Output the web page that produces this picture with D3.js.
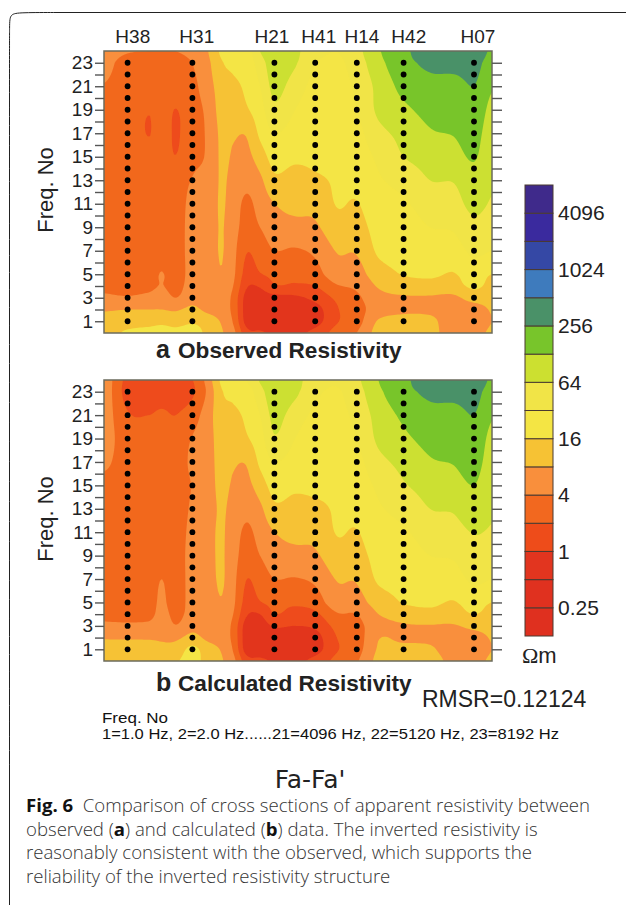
<!DOCTYPE html>
<meta charset="utf-8">
<style>
  body { margin: 0; background: #fff; }
  text { font-family: "Liberation Sans", Arial, sans-serif; fill: #222; }
  .axis path { display: none; }
  .axis line { stroke: #555; stroke-width: 1.4; }
  .axis text { font-size: 19px; fill: #222; }
  .caption { font-family: "Open Sans", sans-serif; font-size: 18.6px; font-weight: 300; fill: #333; }
  .caption tspan.b { font-weight: 700; fill: #111; }
</style>
<svg width="629" height="906"></svg>
<script src="https://d3js.org/d3.v7.min.js"></script>
<script>
  // log2 of apparent resistivity
  var freqRows = [0, 1, 2, 3, 4, 5, 7, 9, 11, 13, 15, 17, 19, 21, 23, 24];
  var profileKm = [0, 5.9, 11.3, 14.4, 17.9, 22.1, 25.7, 29.4, 32.3, 35.7, 39, 42.6, 47.8, 52.8, 58.2, 63.2, 68.6, 74.9, 81.5, 87.3, 92.5, 97];

  // one inner array per profile position, low to high frequency
  var observed = [
    [3.5, 3.4, 2.9, 2.2, 1.75, 1.6, 1.6, 1.6, 1.6, 1.6, 1.6, 1.6, 1.7, 1.95, 2.4, 2.6],
    [4.2, 3.4, 3.0, 2.1, 1.6, 1.5, 1.5, 1.5, 1.5, 1.5, 1.5, 1.5, 1.5, 1.5, 1.5, 2.1],
    [4.5, 3.5, 3.0, 2.3, 1.7, 1.5, 1.5, 1.5, 1.5, 1.5, 1.3, 0.97, 1.05, 1.5, 1.5, 2.0],
    [4.6, 3.7, 3.0, 2.55, 2.05, 2.05, 1.5, 1.5, 1.5, 1.5, 1.5, 1.5, 1.5, 1.5, 1.5, 2.0],
    [4.4, 3.5, 2.9, 2.0, 1.6, 1.5, 1.5, 1.5, 1.5, 1.5, 1.02, 0.9, 0.98, 1.5, 1.55, 2.0],
    [4.7, 3.8, 3.2, 2.7, 2.5, 2.4, 2.4, 2.4, 2.3, 2.05, 1.75, 1.6, 1.6, 1.75, 2.0, 2.3],
    [3.7, 3.5, 2.8, 2.5, 2.5, 2.5, 2.5, 2.5, 2.4, 2.3, 2.1, 2.1, 2.2, 2.5, 2.7, 2.9],
    [3.1, 2.9, 2.5, 2.6, 2.7, 2.95, 3.05, 3.05, 3.1, 3.1, 3.15, 3.2, 3.4, 3.5, 3.9, 4.2],
    [2.3, 1.9, 1.7, 1.7, 2.0, 2.2, 2.3, 2.4, 2.5, 2.7, 2.9, 3.1, 3.5, 3.8, 4.2, 4.4],
    [0.3, -0.4, -0.5, -0.4, 0.1, 0.6, 1.05, 1.6, 1.8, 2.3, 2.75, 3.1, 3.9, 4.2, 4.4, 4.5],
    [0.1, -0.5, -0.6, -0.4, 0.1, 0.95, 1.5, 2.0, 2.4, 2.8, 3.5, 4.2, 4.6, 5.0, 5.5, 6.0],
    [-0.1, -0.5, -0.5, -0.3, 0.9, 1.25, 2.0, 2.5, 3.0, 3.8, 4.4, 5.0, 5.8, 6.3, 6.6, 6.7],
    [-0.2, -0.6, -0.6, -0.2, 0.9, 1.1, 1.9, 2.6, 3.4, 3.6, 4.2, 4.6, 5.0, 5.5, 6.1, 6.2],
    [0.3, -0.4, -0.4, 0.3, 1.0, 1.6, 2.2, 2.85, 3.3, 3.85, 4.2, 4.4, 4.5, 4.7, 5.0, 5.4],
    [1.4, 0.9, 0.9, 1.2, 1.9, 2.6, 3.05, 3.6, 4.05, 4.1, 4.2, 4.3, 4.4, 4.6, 4.8, 5.0],
    [2.0, 1.6, 1.6, 1.8, 2.2, 2.6, 3.1, 3.6, 3.95, 4.3, 4.5, 4.7, 5.0, 5.2, 5.5, 5.7],
    [3.4, 3.1, 2.5, 2.7, 3.1, 3.6, 4.15, 4.4, 4.7, 4.9, 5.2, 5.7, 6.2, 6.3, 6.7, 6.9],
    [3.7, 3.4, 2.8, 2.9, 3.5, 4.05, 4.3, 4.6, 4.9, 5.3, 6.0, 6.3, 6.8, 7.3, 7.7, 7.8],
    [3.3, 3.3, 2.75, 2.9, 3.6, 4.2, 4.6, 5.0, 5.4, 6.0, 6.4, 6.9, 7.3, 7.7, 8.2, 8.5],
    [2.6, 2.3, 2.5, 2.8, 3.6, 3.95, 4.6, 5.1, 5.6, 6.05, 6.6, 7.05, 7.4, 7.6, 8.4, 8.9],
    [2.6, 2.2, 2.5, 3.4, 4.2, 4.5, 5.2, 5.7, 6.3, 6.6, 7.1, 7.4, 7.7, 8.0, 8.4, 8.8],
    [3.2, 3.0, 3.1, 3.4, 3.7, 4.0, 5.0, 5.4, 5.9, 6.1, 6.2, 6.4, 6.7, 7.1, 7.5, 7.8]
  ];

  var calculated = [
    [3.6, 3.5, 2.9, 2.2, 1.75, 1.6, 1.6, 1.6, 1.6, 1.6, 1.7, 2.2, 2.4, 2.5, 2.6, 2.6],
    [3.6, 3.4, 2.9, 2.2, 1.6, 1.5, 1.5, 1.5, 1.5, 1.5, 1.5, 1.5, 1.5, 1.1, 0.6, 0.7],
    [3.7, 3.4, 2.9, 2.3, 1.6, 1.5, 1.5, 1.5, 1.5, 1.5, 1.5, 1.5, 1.4, 1.0, 0.5, 0.6],
    [3.5, 3.2, 2.9, 2.7, 2.4, 2.2, 2.0, 1.6, 1.5, 1.5, 1.5, 1.5, 1.45, 1.15, 0.6, 0.6],
    [3.9, 3.4, 2.8, 2.05, 1.7, 1.5, 1.5, 1.5, 1.5, 1.5, 1.5, 1.5, 1.4, 1.0, 0.55, 0.6],
    [4.3, 4.25, 3.3, 2.7, 2.4, 2.4, 2.4, 2.4, 2.3, 2.15, 2.05, 2.2, 2.05, 1.5, 0.85, 0.95],
    [3.7, 3.5, 2.8, 2.5, 2.5, 2.5, 2.6, 2.7, 2.7, 2.6, 2.6, 2.6, 2.6, 2.5, 2.1, 2.3],
    [3.1, 2.9, 2.5, 2.6, 2.7, 2.95, 3.1, 3.1, 3.1, 3.1, 3.2, 3.3, 3.4, 3.6, 3.9, 4.2],
    [2.3, 1.9, 1.7, 1.7, 2.0, 2.2, 2.3, 2.4, 2.5, 2.7, 2.9, 3.1, 3.5, 3.8, 4.2, 4.4],
    [0.4, -0.5, -0.6, -0.5, 0.1, 0.6, 1.0, 1.5, 1.8, 2.3, 2.75, 3.1, 3.9, 4.2, 4.5, 5.0],
    [0.2, -0.6, -0.7, -0.5, 0.0, 0.95, 1.5, 2.0, 2.4, 2.8, 3.5, 4.2, 4.6, 5.0, 5.6, 6.1],
    [-0.1, -0.6, -0.5, 0.1, 1.0, 1.3, 2.0, 2.5, 3.0, 3.8, 4.4, 5.0, 5.9, 6.3, 6.7, 6.8],
    [-0.2, -0.6, -0.6, 0.0, 0.6, 1.2, 1.95, 2.6, 3.4, 3.65, 4.2, 4.6, 5.0, 5.5, 6.2, 6.3],
    [0.3, -0.4, -0.4, 0.2, 0.8, 1.5, 2.2, 2.85, 3.3, 3.8, 4.2, 4.4, 4.5, 4.8, 5.2, 5.5],
    [1.3, 0.9, 1.0, 1.3, 1.9, 2.6, 3.05, 3.6, 4.05, 4.1, 4.2, 4.3, 4.4, 4.7, 4.9, 5.1],
    [1.9, 1.6, 1.5, 1.7, 2.0, 2.6, 3.1, 3.6, 3.95, 4.3, 4.5, 4.7, 5.0, 5.3, 5.6, 5.8],
    [3.3, 3.1, 2.95, 2.6, 3.0, 3.5, 4.15, 4.4, 4.7, 4.9, 5.2, 5.7, 6.2, 6.4, 6.8, 7.0],
    [3.6, 3.3, 2.8, 2.9, 3.5, 4.05, 4.3, 4.6, 4.9, 5.3, 5.9, 6.3, 6.8, 7.2, 7.7, 7.8],
    [3.6, 3.2, 2.75, 2.95, 3.7, 4.2, 4.6, 5.0, 5.4, 6.0, 6.4, 6.9, 7.3, 7.7, 8.2, 8.5],
    [2.6, 2.3, 2.5, 2.9, 3.6, 3.95, 4.6, 5.1, 5.6, 6.1, 6.6, 7.05, 7.4, 7.6, 8.4, 8.9],
    [2.6, 2.2, 2.5, 3.3, 4.0, 4.4, 5.2, 5.6, 6.05, 6.6, 7.0, 7.4, 7.7, 8.0, 8.4, 8.8],
    [3.2, 3.0, 3.1, 3.4, 3.7, 4.0, 5.0, 5.4, 5.9, 6.1, 6.3, 6.5, 6.7, 7.1, 7.5, 7.8]
  ];

  var stationNames = ["H38", "H31", "H21", "H41", "H14", "H42", "H07"];
  var stationKm = [5.9, 22.1, 42.6, 52.8, 63.2, 74.9, 92.5];
  var stationLabelKm = [7.2, 23.2, 42, 53.7, 64.5, 76.2, 93.5];
  var freqNumbers = d3.range(1, 24);

  // band edges in log2(ohm m), bottom of the legend upwards
  var bandEdges = d3.range(-3, 14);
  var bandColors = ["#df301f", "#e0311f", "#e2351f", "#ee4c1a", "#f2681f", "#f98f3c", "#f6c234", "#f4e544",
    "#f1e447", "#cce030", "#78c52b", "#4a9168", "#3e7bbd", "#3548a5", "#3a2a9e", "#3f2a8b"];
  var legendTicks = [-2, 0, 2, 4, 6, 8, 10, 12];
  var legendLabels = ["0.25", "1", "4", "16", "64", "256", "1024", "4096"];

  var captionLines = [
    [["b", "Fig. 6"], ["", "  Comparison of cross sections of apparent resistivity between"]],
    [["", "observed ("], ["b", "a"], ["", ") and calculated ("], ["b", "b"], ["", ") data. The inverted resistivity is"]],
    [["", "reasonably consistent with the observed, which supports the"]],
    [["", "reliability of the inverted resistivity structure"]]
  ];

  var svg = d3.select("svg");

  var defs = svg.append("defs");
  defs.append("filter").attr("id", "soft")
    .append("feGaussianBlur").attr("stdDeviation", 0.6);

  var plotLeft = 104,
    plotRight = 492,
    step = 2;

  var x = d3.scaleLinear().domain([0, 97]).range([plotLeft, plotRight]);

  // position along the table, the rows and columns are not evenly spaced
  var colIndex = d3.scaleLinear().domain(profileKm).range(d3.range(profileKm.length));
  var rowIndex = d3.scaleLinear().domain(freqRows).range(d3.range(freqRows.length));

  function cubic(a, b, c, d, t) {
    return b + 0.5 * t * (c - a + t * (2 * a - 5 * b + 4 * c - d + t * (3 * (b - c) + d - a)));
  }

  function lookup(table, u, v) {
    var i = Math.min(Math.floor(u), table.length - 2),
      j = Math.min(Math.floor(v), table[0].length - 2),
      row = [];
    for (var k = -1; k <= 2; k++) {
      var col = table[Math.max(0, Math.min(table.length - 1, i + k))];
      row.push(cubic(
        col[Math.max(0, j - 1)], col[j], col[j + 1], col[Math.min(col.length - 1, j + 2)], v - j));
    }
    return cubic(row[0], row[1], row[2], row[3], u - i);
  }

  function section(table, top, bottom) {
    var y = d3.scaleLinear().domain([0, 24]).range([bottom, top]);
    var g = svg.append("g");

    var nx = Math.round((plotRight - plotLeft) / step) + 1,
      ny = Math.round((bottom - top) / step) + 1,
      values = new Array(nx * ny);

    var gx = d3.scaleLinear().domain([0.5, nx - 0.5]).range([plotLeft, plotRight]).clamp(true),
      gy = d3.scaleLinear().domain([0.5, ny - 0.5]).range([top, bottom]).clamp(true);

    for (var j = 0; j < ny; j++) {
      for (var i = 0; i < nx; i++) {
        var km = x.invert(gx(i + 0.5)),
          f = y.invert(gy(j + 0.5));
        values[j * nx + i] = lookup(table, colIndex(km), rowIndex(f));
      }
    }

    var path = d3.geoPath(d3.geoTransform({
      point: function(a, b) {
        this.stream.point(gx(a), gy(b));
      }
    }));

    var bands = d3.contours().size([nx, ny]).thresholds(bandEdges.slice(0, -1))(values);

    var map = g.append("g").attr("filter", "url(#soft)");

    map.append("rect")
      .attr("x", plotLeft).attr("y", top)
      .attr("width", plotRight - plotLeft).attr("height", bottom - top)
      .attr("fill", bandColors[0]);

    map.selectAll("path")
      .data(bands)
      .enter().append("path")
      .attr("d", path)
      .attr("fill", function(d, i) { return bandColors[i]; });

    g.append("rect")
      .attr("x", plotLeft).attr("y", top)
      .attr("width", plotRight - plotLeft).attr("height", bottom - top)
      .attr("fill", "none")
      .attr("stroke", "#6b6b5c")
      .attr("stroke-width", 1.5);

    g.append("g")
      .attr("class", "axis")
      .attr("transform", "translate(" + plotLeft + ",0)")
      .call(d3.axisLeft(y).tickValues(freqNumbers).tickSize(9).tickPadding(2)
        .tickFormat(function(d) { return d % 2 ? d : ""; }));

    g.append("g")
      .attr("class", "axis")
      .attr("transform", "translate(" + plotRight + ",0)")
      .call(d3.axisRight(y).tickValues(freqNumbers).tickSize(10).tickFormat(""));

    stationKm.forEach(function(km) {
      g.append("g").selectAll("circle")
        .data(freqNumbers)
        .enter().append("circle")
        .attr("cx", x(km))
        .attr("cy", function(d) { return y(d); })
        .attr("r", 2.9)
        .attr("fill", "#000");
    });

    g.append("text")
      .attr("transform", "translate(53," + (top + 139) + ") rotate(-90)")
      .attr("text-anchor", "middle")
      .style("font-size", "22px")
      .text("Freq. No");
  }

  section(observed, 51, 333);
  section(calculated, 380, 661);

  svg.append("g").selectAll("text")
    .data(stationNames)
    .enter().append("text")
    .attr("x", function(d, i) { return x(stationLabelKm[i]); })
    .attr("y", 43)
    .attr("text-anchor", "middle")
    .style("font-size", "19px")
    .text(function(d) { return d; });

  function panelTitle(letter, title, baseline) {
    svg.append("text")
      .attr("x", 156)
      .attr("y", baseline)
      .style("font-weight", 700)
      .style("font-size", "25px")
      .text(letter);
    svg.append("text")
      .attr("x", 178)
      .attr("y", baseline)
      .style("font-weight", 700)
      .style("font-size", "22.6px")
      .text(title);
  }

  panelTitle("a", "Observed Resistivity", 358);
  panelTitle("b", "Calculated Resistivity", 691);

  // legend
  var legendY = d3.scaleLinear().domain([-3, 13]).range([636, 185]);
  var legend = svg.append("g");

  legend.selectAll("rect")
    .data(bandColors)
    .enter().append("rect")
    .attr("x", 525)
    .attr("width", 28)
    .attr("y", function(d, i) { return legendY(bandEdges[i + 1]); })
    .attr("height", function(d, i) { return legendY(bandEdges[i]) - legendY(bandEdges[i + 1]); })
    .attr("fill", function(d) { return d; })
    .attr("stroke", "#4a3a30")
    .attr("stroke-width", 1);

  legend.append("g")
    .attr("class", "axis legend-axis")
    .attr("transform", "translate(553,0)")
    .call(d3.axisRight(legendY).tickValues(legendTicks).tickSize(0).tickPadding(5)
      .tickFormat(function(d, i) { return legendLabels[i]; }))
    .selectAll("text")
    .style("font-size", "21px");

  var unit = svg.append("text")
    .attr("x", 522).attr("y", 663)
    .style("font-size", "22px");
  unit.append("tspan").style("font-family", "'Liberation Serif'").text("Ω");
  unit.append("tspan").text("m");

  svg.append("text")
    .attr("x", 422).attr("y", 707)
    .style("font-size", "23px")
    .text("RMSR=0.12124");

  svg.append("text")
    .attr("x", 102).attr("y", 723)
    .style("font-size", "14.5px")
    .style("fill", "#111")
    .attr("textLength", 66)
    .attr("lengthAdjust", "spacingAndGlyphs")
    .text("Freq. No");

  svg.append("text")
    .attr("x", 102).attr("y", 739)
    .style("font-size", "15px")
    .style("fill", "#111")
    .attr("textLength", 457)
    .attr("lengthAdjust", "spacingAndGlyphs")
    .text("1=1.0 Hz, 2=2.0 Hz......21=4096 Hz, 22=5120 Hz, 23=8192 Hz");

  svg.append("text")
    .attr("x", 310).attr("y", 788)
    .attr("text-anchor", "middle")
    .style("font-family", "'DejaVu Sans'")
    .style("font-size", "25px")
    .text("Fa-Fa'");

  // page frame, open at the right and bottom
  svg.append("path")
    .attr("d", d3.line().curve(d3.curveBasis)([[9.5, 905], [9.5, 60], [9.5, 24], [10, 14], [20, 12.5], [60, 12.5]]))
    .attr("fill", "none")
    .attr("stroke", "#222")
    .attr("stroke-width", 1);

  svg.append("path")
    .attr("d", d3.line()([[60, 12.5], [626, 12.5]]))
    .attr("fill", "none")
    .attr("stroke", "#222")
    .attr("stroke-width", 1);

  var caption = svg.append("g").selectAll("text")
    .data(captionLines)
    .enter().append("text")
    .attr("class", "caption")
    .attr("x", 26)
    .attr("y", function(d, i) { return 812 + i * 23.6; })
    .attr("xml:space", "preserve");

  caption.selectAll("tspan")
    .data(function(d) { return d; })
    .enter().append("tspan")
    .attr("class", function(d) { return d[0]; })
    .text(function(d) { return d[1]; });
</script>
